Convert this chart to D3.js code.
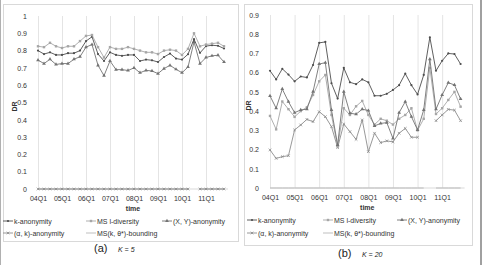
<!DOCTYPE html>
<html>
<head>
<meta charset="utf-8">
<script src="https://cdn.jsdelivr.net/npm/d3@7"></script>
<style>
  body { margin: 0; background: #fff; }
  svg { display: block; font-family: "Liberation Sans", Arial, sans-serif; }
</style>
</head>
<body>
<svg id="chart" width="484" height="265"></svg>
<script>
// quarters on the x axis
var quarters = ["04Q1","04Q2","04Q3","04Q4","05Q1","05Q2","05Q3","05Q4",
                "06Q1","06Q2","06Q3","06Q4","07Q1","07Q2","07Q3","07Q4",
                "08Q1","08Q2","08Q3","08Q4","09Q1","09Q2","09Q3","09Q4",
                "10Q1","10Q2","10Q3","10Q4","11Q1","11Q2","11Q3","11Q4"];
var yearTicks = ["04Q1","05Q1","06Q1","07Q1","08Q1","09Q1","10Q1","11Q1"];
var legendNames = ["k-anonymity", "MS l-diversity", "(X, Y)-anonymity", "(\u03b1, k)-anonymity", "MS(k, \u03b8*)-bounding"];

// panel (a), K = 5
var a_kAnon = [0.80,0.78,0.79,0.775,0.775,0.785,0.785,0.80,0.855,0.88,0.78,0.74,0.79,0.775,0.77,0.775,
               0.775,0.74,0.748,0.744,0.734,0.763,0.783,0.754,0.748,0.779,0.866,0.787,0.826,0.831,0.828,0.812];
var a_msDiv = [0.825,0.82,0.845,0.825,0.815,0.825,0.825,0.855,0.885,0.89,0.82,0.76,0.82,0.81,0.81,0.82,
               0.81,0.80,0.79,0.79,0.78,0.80,0.805,0.80,0.775,0.81,0.90,0.825,0.835,0.84,0.845,0.825];
var a_xyAnon = [0.745,0.725,0.75,0.72,0.725,0.725,0.75,0.765,0.82,0.835,0.715,0.655,0.74,0.69,0.69,0.685,
                0.70,0.672,0.686,0.682,0.667,0.696,0.715,0.692,0.672,0.705,0.85,0.725,0.76,0.77,0.773,0.734];
var a_akAnon = [0,0,0,0,0,0,0,0,0,0,0,0,0,0,0,0,0,0,0,0,0,0,0,0,0,0,null,0,0,0,0,0];
var a_msBound = [0,0,0,0,0,0,0,0,0,0,0,0,0,0,0,0,0,0,0,0,0,0,0,0,0,0,null,0,0,0,0,0];

// panel (b), K = 20
var b_kAnon = [0.61,0.565,0.62,0.59,0.555,0.58,0.575,0.64,0.755,0.76,0.545,0.465,0.625,0.55,0.54,0.565,
               0.55,0.48,0.48,0.49,0.51,0.535,0.595,0.535,0.487,0.588,0.784,0.61,0.662,0.70,0.697,0.645];
var b_xyAnon = [0.479,0.415,0.515,0.449,0.392,0.406,0.41,0.501,0.645,0.652,0.406,0.224,0.501,0.389,0.384,0.41,
                0.403,0.323,0.336,0.34,0.258,0.392,0.449,0.371,0.302,0.406,0.67,0.41,0.484,0.548,0.536,0.463];
var b_msDiv = [0.375,0.305,0.45,0.41,0.37,0.40,0.42,0.484,0.555,0.588,0.38,0.215,0.415,0.38,0.425,0.453,
               0.38,0.33,0.36,0.35,0.33,0.36,0.38,0.415,0.30,0.36,0.625,0.385,0.415,0.458,0.50,0.423];
var b_akAnon = [0.198,0.154,0.163,0.168,0.302,0.328,0.357,0.345,0.397,0.371,0.319,0.21,0.333,0.293,0.253,0.354,
                0.189,0.285,0.236,0.245,0.24,0.285,0.31,0.264,0.264,null,null,0.35,0.38,0.409,0.405,0.35];
var b_msBound = [0,0,0,0,0,0,0,0,0,0,0,0,0,0,0,0,0,0,0,0,0,0,0,0,0,0,null,0,0,0,0,0];

var svg = d3.select("#chart");

// figure frame edges
svg.append("line").attr("x1", 0.5).attr("x2", 0.5).attr("y1", 0).attr("y2", 265).attr("stroke", "#b0b0b0");
svg.append("rect").attr("x", 480).attr("y", 0).attr("width", 2).attr("height", 265).attr("fill", "#a0a0a0");

// marker look for each legend entry
var styles = [
  {color: "#4d4d4d", marker: "dot"},
  {color: "#a6a6a6", marker: "square"},
  {color: "#737373", marker: "tri"},
  {color: "#8c8c8c", marker: "cross"},
  {color: "#b8b8b8", marker: "none"}
];

function drawMarker(g, type, x, y, color){
  if(type == "dot"){
    g.append("circle").attr("cx", x).attr("cy", y).attr("r", 1.1).attr("fill", color);
  } else if(type == "square"){
    g.append("rect").attr("x", x - 1.2).attr("y", y - 1.2).attr("width", 2.4).attr("height", 2.4).attr("fill", color);
  } else if(type == "tri"){
    g.append("path").attr("d", d3.symbol().type(d3.symbolTriangle).size(6)()).attr("transform", "translate(" + x + "," + y + ")").attr("fill", color);
  } else if(type == "cross"){
    g.append("path").attr("d", "M-1.3,-1.3L1.3,1.3M-1.3,1.3L1.3,-1.3").attr("transform", "translate(" + x + "," + y + ")")
      .attr("stroke", color).attr("stroke-width", 0.8).attr("fill", "none");
  }
}

function drawPanel(p){
  svg.append("rect")
    .attr("x", p.box[0] + 0.5).attr("y", p.box[1] + 0.5)
    .attr("width", p.box[2] - p.box[0]).attr("height", p.box[3] - p.box[1])
    .attr("fill", "#fff").attr("stroke", "#d9d9d9").attr("stroke-width", 1);

  var x = d3.scalePoint().domain(quarters).range([p.x0, p.x1]);
  var y = d3.scaleLinear().domain([0, p.ymax]).range([p.y0, p.ytop]);

  var g = svg.append("g");

  // vertical gridlines at each year
  g.append("g")
    .attr("transform", "translate(0," + p.ytop + ")")
    .call(d3.axisBottom(x).tickValues(yearTicks).tickSize(p.y0 - p.ytop).tickFormat(""))
    .call(function(s){ s.select(".domain").remove(); s.selectAll("line").attr("stroke", "#e4e4e4"); });

  // baseline
  g.append("line").attr("x1", p.x0).attr("x2", p.x1 + 4).attr("y1", p.y0).attr("y2", p.y0).attr("stroke", "#d9d9d9");

  // y axis labels
  var yAxis = g.append("g")
    .attr("transform", "translate(" + (p.x0 - 8) + ",0)")
    .call(d3.axisLeft(y).tickValues(p.yticks).tickSize(0).tickFormat(d3.format("~g")));
  yAxis.select(".domain").remove();
  yAxis.selectAll("text").attr("font-size", 7).attr("fill", "#333").attr("font-family", "Liberation Sans, Arial, sans-serif");

  // x axis labels
  var xAxis = g.append("g")
    .attr("transform", "translate(0," + (p.y0 + 4) + ")")
    .call(d3.axisBottom(x).tickValues(yearTicks).tickSize(0));
  xAxis.select(".domain").remove();
  xAxis.selectAll("text").attr("font-size", 7).attr("fill", "#333").attr("font-family", "Liberation Sans, Arial, sans-serif");

  g.append("text").attr("x", (p.x0 + p.x1) / 2 + 2).attr("y", p.y0 + 22)
    .attr("text-anchor", "middle").attr("font-size", 7).attr("font-weight", "bold").attr("fill", "#333").text("time");

  g.append("text").attr("transform", "translate(" + p.drX + "," + ((p.y0 + p.ytop) / 2 + 4) + ") rotate(-90)")
    .attr("text-anchor", "middle").attr("font-size", 7).attr("font-weight", "bold").attr("fill", "#333").text("DR");

  var line = d3.line()
    .defined(function(d){ return d != null; })
    .x(function(d, i){ return x(quarters[i]); })
    .y(function(d){ return y(d); });

  // draw series, back to front
  p.order.forEach(function(k){
    var vals = p.series[k];
    var st = styles[k];
    g.append("path").datum(vals).attr("d", line)
      .attr("fill", "none").attr("stroke", st.color).attr("stroke-width", 0.9);
    var mg = g.append("g");
    vals.forEach(function(v, i){
      if(v != null) drawMarker(mg, st.marker, x(quarters[i]), y(v), st.color);
    });
  });

  // legend
  legendNames.forEach(function(name, k){
    var col = k < 3 ? k : k - 3;
    var row = k < 3 ? 0 : 1;
    var lx = p.legX[col], ly = p.legY[row];
    var st = styles[k];
    g.append("line").attr("x1", lx).attr("x2", lx + 10).attr("y1", ly).attr("y2", ly)
      .attr("stroke", st.color).attr("stroke-width", 0.9);
    drawMarker(g, st.marker, lx + 5, ly, st.color);
    g.append("text").attr("x", lx + 11).attr("y", ly + 2.5).attr("font-size", 7).attr("fill", "#333").text(name);
  });

  // caption
  svg.append("text").attr("x", p.capX).attr("y", p.capY).attr("font-size", 11).attr("fill", "#222").text(p.cap);
  svg.append("text").attr("x", p.capX + 24).attr("y", p.capY - 0.5).attr("font-size", 7).attr("fill", "#222")
    .attr("font-style", "italic").text(p.capK);
}

drawPanel({
  box: [3, 4, 238, 241],
  x0: 38, x1: 224, y0: 189, ytop: 16, ymax: 1,
  yticks: [0,0.1,0.2,0.3,0.4,0.5,0.6,0.7,0.8,0.9,1],
  series: [a_kAnon, a_msDiv, a_xyAnon, a_akAnon, a_msBound],
  order: [4, 3, 2, 0, 1],
  drX: 17,
  legX: [3, 86, 162], legY: [221, 233],
  cap: "(a)", capK: "K = 5", capX: 94, capY: 252
});

drawPanel({
  box: [244, 4, 472, 245],
  x0: 270, x1: 460.6, y0: 188, ytop: 15, ymax: 0.9,
  yticks: [0,0.1,0.2,0.3,0.4,0.5,0.6,0.7,0.8,0.9],
  series: [b_kAnon, b_msDiv, b_xyAnon, b_akAnon, b_msBound],
  order: [4, 3, 1, 2, 0],
  drX: 251,
  legX: [247, 323, 397], legY: [220, 233],
  cap: "(b)", capK: "K = 20", capX: 338, capY: 257
});
</script>
</body>
</html>
